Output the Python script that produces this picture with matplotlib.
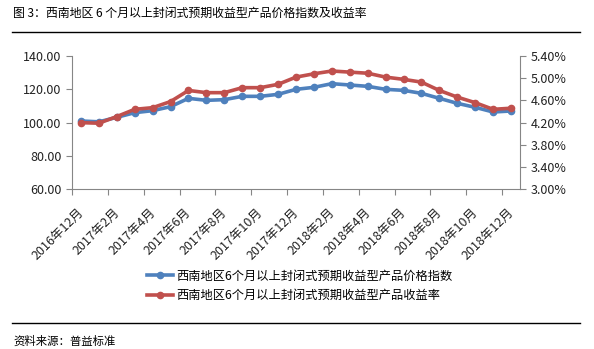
import numpy as np
import matplotlib
matplotlib.use("Agg")
import matplotlib.pyplot as plt
import matplotlib.transforms as mtransforms
from matplotlib.ticker import FuncFormatter
from matplotlib.lines import Line2D

plt.rcParams['font.family'] = ['Noto Sans CJK SC', 'DejaVu Sans']

#  DATA
months = ["2016年12月", "2017年1月", "2017年2月", "2017年3月", "2017年4月", "2017年5月",
          "2017年6月", "2017年7月", "2017年8月", "2017年9月", "2017年10月", "2017年11月",
          "2017年12月", "2018年1月", "2018年2月", "2018年3月", "2018年4月", "2018年5月",
          "2018年6月", "2018年7月", "2018年8月", "2018年9月", "2018年10月", "2018年11月",
          "2018年12月"]
price_index = [101.0, 100.5, 103.2, 106.0, 107.2, 109.6, 114.6, 113.4, 113.8, 115.8,
               115.8, 117.0, 120.0, 121.2, 123.4, 122.6, 121.8, 120.0, 119.4, 117.6,
               114.6, 111.6, 109.2, 106.4, 107.0]
yield_rate = [4.20, 4.19, 4.31, 4.44, 4.47, 4.58, 4.78, 4.74, 4.74, 4.83,
              4.83, 4.89, 5.02, 5.08, 5.13, 5.11, 5.09, 5.02, 4.98, 4.93,
              4.78, 4.66, 4.56, 4.44, 4.46]
name_index = "西南地区6个月以上封闭式预期收益型产品价格指数"
name_yield = "西南地区6个月以上封闭式预期收益型产品收益率"
title = "图 3：西南地区 6 个月以上封闭式预期收益型产品价格指数及收益率"
source = "资料来源：普益标准"

BLUE = "#4F81BD"
RED = "#C0504D"
GRAY = "#868686"
TXT = "#222222"

fig = plt.figure(figsize=(5.94, 3.49), dpi=100)
ax = fig.add_axes([0.1212, 0.4576, 0.7542, 0.3819])
ax2 = ax.twinx()

x = np.arange(len(months))
ax.plot(x, price_index, color=BLUE, lw=2.6, marker="o", ms=4.5, zorder=3)
ax2.plot(x, yield_rate, color=RED, lw=2.6, marker="o", ms=4.5, zorder=3)

ax.set_xlim(-0.5, len(months) - 0.5)
ax.set_ylim(60, 140)
ax.set_yticks(np.arange(60, 141, 20))
ax.yaxis.set_major_formatter(FuncFormatter(lambda v, p: f"{v:.2f}"))
ax2.set_ylim(3.0, 5.4)
ax2.set_yticks(np.arange(3.0, 5.41, 0.4))
ax2.yaxis.set_major_formatter(FuncFormatter(lambda v, p: f"{v:.2f}%"))

ax.set_xticks(np.arange(-0.5, len(months), 2))
ax.set_xticklabels([])
ax.set_xticks(x[::2], minor=True)
ax.set_xticklabels(months[::2], minor=True, rotation=45, ha="right",
                   rotation_mode="anchor", fontsize=9, color=TXT)
ax.tick_params(axis="x", which="minor", length=0, pad=12)
ax.tick_params(axis="x", which="major", length=4, color=GRAY)
shift = mtransforms.ScaledTranslation(-4 / 100, 0, fig.dpi_scale_trans)
for lbl in ax.xaxis.get_minorticklabels():
    lbl.set_transform(lbl.get_transform() + shift)

for a in (ax, ax2):
    a.spines["top"].set_visible(False)
    for s in ("left", "right", "bottom"):
        a.spines[s].set_color(GRAY)
ax.spines["right"].set_visible(False)
ax2.spines["left"].set_visible(False)
ax2.spines["bottom"].set_visible(False)
ax.tick_params(axis="y", length=4, color=GRAY, labelsize=9, labelcolor=TXT)
ax2.tick_params(axis="y", length=4, color=GRAY, labelsize=9, labelcolor=TXT)

handles = [Line2D([], [], color=BLUE, lw=2.6, marker="o", ms=4.5),
           Line2D([], [], color=RED, lw=2.6, marker="o", ms=4.5)]
fig.legend(handles, [name_index, name_yield], loc="center", bbox_to_anchor=(0.505, 0.181),
           frameon=False, fontsize=8.8, handlelength=2.1, handletextpad=0.3,
           labelspacing=0.5)

fig.text(0.022, 0.962, title, fontsize=8.6, va="center", ha="left")
fig.add_artist(Line2D([0.02, 0.977], [0.907, 0.907], color="black", lw=1.0))
fig.add_artist(Line2D([0.02, 0.977], [0.074, 0.074], color="black", lw=1.0))
fig.text(0.022, 0.022, source, fontsize=8.2, va="center", ha="left")

fig.savefig("out.png", dpi=100)
